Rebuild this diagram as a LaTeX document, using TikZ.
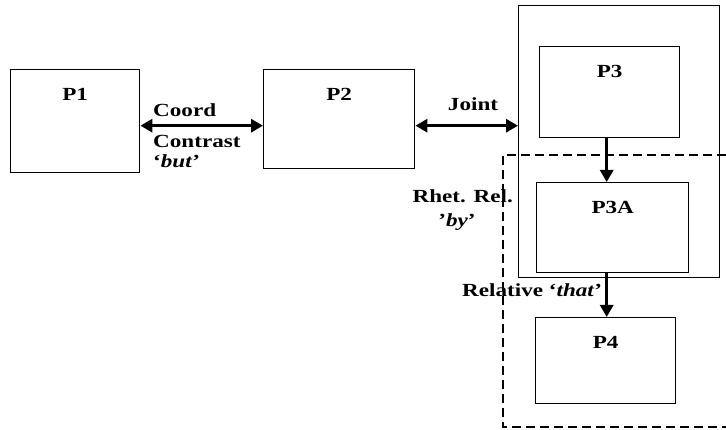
\documentclass[tikz,border=0pt]{standalone}
\usepackage{fontspec}
\setmainfont{Liberation Serif}[FakeStretch=1.25]
\usepackage{tikz}
\usetikzlibrary{arrows.meta,positioning}

\begin{document}
\begin{tikzpicture}[x=1pt,y=-1pt,>={Triangle[length=12pt,width=13pt]},
  pbox/.style={draw,line width=1.4pt,inner sep=0pt,anchor=north west},
  lbl/.style={font=\fontsize{18.5}{20}\selectfont\bfseries,inner sep=0pt},
  tag/.style={label={[lbl,anchor=north,yshift=-19pt]north:#1}},
  link/.style={line width=3pt}]
  \useasboundingbox (0,0) rectangle (726,430);
  % the propositions
  \node[pbox,minimum width=129pt,minimum height=103pt,tag=P1] (p1) at (10,69) {};
  \node[pbox,minimum width=151pt,minimum height=99pt,tag=P2] (p2) at (263,69) {};
  \node[pbox,minimum width=201pt,minimum height=272pt] (grp) at (518,5) {};
  \node[pbox,minimum width=140pt,minimum height=91pt,tag=P3] (p3) at (539,46) {};
  \node[pbox,minimum width=152pt,minimum height=90pt,tag=P3A] (p3a) at (536,182) {};
  \node[pbox,minimum width=140pt,minimum height=86pt,tag=P4] (p4) at (535,317) {};
  % relation labels
  \node[lbl,anchor=west] (coord) at (153,110) {Coord};
  \node[lbl,anchor=west] (contr) at (153,141) {Contrast};
  \node[lbl,anchor=west] (but) at (153,161) {‘\textit{but}’};
  \node[lbl] (joint) at (473,104) {Joint};
  \node[lbl,anchor=east] (rhet) at (513,196) {Rhet. Rel.};
  \node[lbl] (by) at (457,222) {’\textit{by}’};
  \node[lbl,anchor=west] (rel) at (462,290) {Relative ‘\textit{that}’};
  % the links
  \draw[link,<->] ([yshift=-4.5pt]p1.east) -- ([yshift=-4.5pt]p1.east -| p2.west);
  \draw[link,<->] ([yshift=-6.5pt]p2.east) -- ([yshift=-6.5pt]p2.east -| grp.west);
  \draw[link,->] ([xshift=-3pt]p3.south) -- ([xshift=-3pt]p3.south |- p3a.north);
  \draw[link,->] ([xshift=-6pt]p3a.south) -- ([xshift=-6pt]p3a.south |- p4.north);
  % dashed region round P3A and P4
  \coordinate (dtop) at (726,155);
  \coordinate (dbot) at (726,427);
  \draw[line width=2.8pt,dash pattern=on 9pt off 5pt] (dtop) -| (503,427) -- (dbot);
\end{tikzpicture}
\end{document}
